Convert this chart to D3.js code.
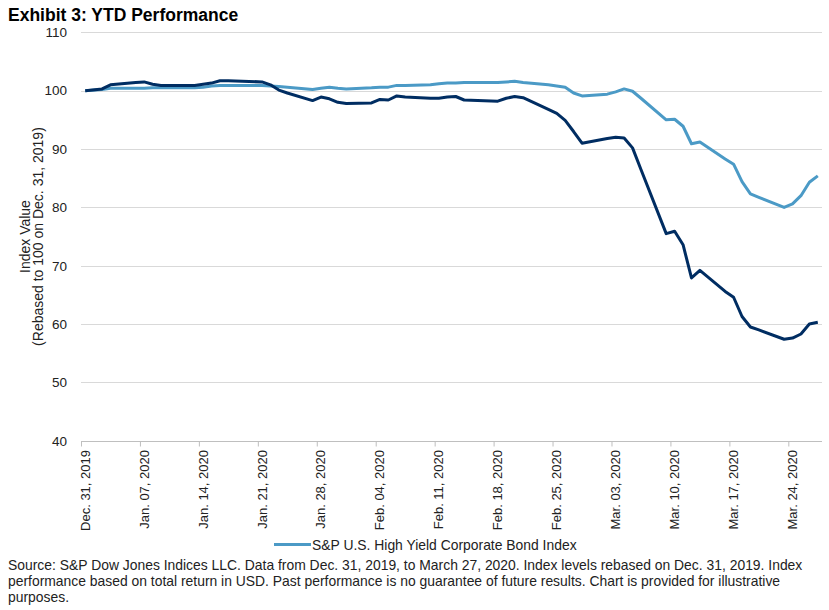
<!DOCTYPE html>
<html>
<head>
<meta charset="utf-8">
<script src="https://cdn.jsdelivr.net/npm/d3@7"></script>
<style>
  body { margin: 0; background: #fff; }
  svg { display: block; font-family: "Liberation Sans", Arial, sans-serif; }
</style>
</head>
<body>
<div id="chart"></div>
<script>
// business days, Dec. 31, 2019 to Mar. 27, 2020
const dates = [
  "2019-12-31", "2020-01-02", "2020-01-03", "2020-01-06", "2020-01-07", "2020-01-08",
  "2020-01-09", "2020-01-10", "2020-01-13", "2020-01-14", "2020-01-15", "2020-01-16",
  "2020-01-17", "2020-01-21", "2020-01-22", "2020-01-23", "2020-01-24", "2020-01-27",
  "2020-01-28", "2020-01-29", "2020-01-30", "2020-01-31", "2020-02-03", "2020-02-04",
  "2020-02-05", "2020-02-06", "2020-02-07", "2020-02-10", "2020-02-11", "2020-02-12",
  "2020-02-13", "2020-02-14", "2020-02-18", "2020-02-19", "2020-02-20", "2020-02-21",
  "2020-02-24", "2020-02-25", "2020-02-26", "2020-02-27", "2020-02-28", "2020-03-02",
  "2020-03-03", "2020-03-04", "2020-03-05", "2020-03-06", "2020-03-09", "2020-03-10",
  "2020-03-11", "2020-03-12", "2020-03-13", "2020-03-16", "2020-03-17", "2020-03-18",
  "2020-03-19", "2020-03-20", "2020-03-23", "2020-03-24", "2020-03-25", "2020-03-26",
  "2020-03-27"
];

// S&P U.S. High Yield Corporate Bond Index (light blue)
const highYield = [
  100.0, 100.2, 100.4, 100.4, 100.4, 100.5,
  100.5, 100.5, 100.5, 100.6, 100.8, 100.9,
  100.9, 100.9, 100.8, 100.7, 100.6, 100.2,
  100.4, 100.6, 100.4, 100.3, 100.5, 100.6,
  100.6, 100.9, 100.9, 101.0, 101.2, 101.3,
  101.3, 101.4, 101.4, 101.5, 101.6, 101.4,
  101.0, 100.8, 100.6, 99.6, 99.1, 99.4,
  99.8, 100.3, 99.9, 98.7, 95.0, 95.1,
  93.9, 90.9, 91.2, 88.3, 87.4, 84.4,
  82.3, 81.7, 80.0, 80.6, 82.0, 84.3,
  85.4
];

// second index (dark navy, not in legend)
const secondIndex = [
  100.0, 100.3, 101.0, 101.4, 101.5, 101.1,
  100.9, 100.9, 100.9, 101.1, 101.3, 101.7,
  101.7, 101.5, 101.0, 100.1, 99.6, 98.3,
  98.9, 98.6, 98.0, 97.8, 97.9, 98.5,
  98.4, 99.1, 98.9, 98.7, 98.7, 98.9,
  99.0, 98.4, 98.2, 98.7, 99.0, 98.8,
  96.8, 96.1, 94.9, 93.0, 91.0, 91.8,
  92.0, 91.9, 90.2, 86.5, 75.5, 75.9,
  73.6, 67.9, 69.2, 65.6, 64.6, 61.3,
  59.5, 59.0, 57.4, 57.6, 58.3, 60.0,
  60.3
];

const yTicks = [40, 50, 60, 70, 80, 90, 100, 110];
const xTickDates = [
  "2019-12-31", "2020-01-07", "2020-01-14", "2020-01-21", "2020-01-28", "2020-02-04",
  "2020-02-11", "2020-02-18", "2020-02-25", "2020-03-03", "2020-03-10", "2020-03-17",
  "2020-03-24"
];
const xTickLabels = [
  "Dec. 31, 2019", "Jan. 07, 2020", "Jan. 14, 2020", "Jan. 21, 2020", "Jan. 28, 2020",
  "Feb. 04, 2020", "Feb. 11, 2020", "Feb. 18, 2020", "Feb. 25, 2020", "Mar. 03, 2020",
  "Mar. 10, 2020", "Mar. 17, 2020", "Mar. 24, 2020"
];

const title = "Exhibit 3: YTD Performance";
const legendLabel = "S&P U.S. High Yield Corporate Bond Index";
const sourceLines = [
  "Source: S&P Dow Jones Indices LLC. Data  from Dec. 31, 2019, to March 27, 2020. Index levels rebased on Dec. 31, 2019. Index",
  "performance based on total return in USD. Past performance is no guarantee of future results. Chart is provided for illustrative",
  "purposes."
];

const width = 829, height = 610;
const margin = { top: 32.3, right: 7, bottom: 169.2, left: 81 };
const colors = { light: "#4b9ac6", dark: "#002d62", grid: "#d9d9d9", axis: "#bfbfbf" };

const parse = d3.utcParse("%Y-%m-%d");
const halfDay = 12 * 3600 * 1000;

const svg = d3.select("#chart").append("svg")
  .attr("width", width)
  .attr("height", height);

// one slot per calendar day, points centred in their slot (Excel date axis)
const x = d3.scaleUtc()
  .domain([parse("2019-12-31"), parse("2020-03-28")])
  .range([margin.left, width - margin.right]);

const y = d3.scaleLinear()
  .domain([40, 110])
  .range([height - margin.bottom, margin.top]);

svg.append("text")
  .attr("x", 8)
  .attr("y", 21)
  .style("font-size", "17.5px")
  .style("font-weight", "bold")
  .attr("fill", "#000")
  .text(title);

// gridlines
svg.append("g")
  .selectAll("line")
  .data(yTicks.filter((d) => d > 40))
  .join("line")
  .attr("x1", margin.left)
  .attr("x2", width - margin.right)
  .attr("y1", (d) => Math.round(y(d)) + 0.5)
  .attr("y2", (d) => Math.round(y(d)) + 0.5)
  .attr("stroke", colors.grid)
  .attr("stroke-width", 1);

// y axis labels
svg.append("g")
  .attr("transform", `translate(${margin.left}, 0)`)
  .call(d3.axisLeft(y).tickValues(yTicks).tickSize(0).tickPadding(14))
  .call((g) => g.select(".domain").remove())
  .call((g) => g.selectAll("text")
    .style("font-size", "13.5px")
    .style("font-family", "Liberation Sans, Arial, sans-serif")
    .attr("fill", "#222"));

// x axis
svg.append("g")
  .attr("transform", `translate(0, ${Math.round(y(40)) + 0.5})`)
  .call(d3.axisBottom(x)
    .tickValues(xTickDates.map(parse))
    .tickSize(5)
    .tickFormat(""))
  .call((g) => g.select(".domain").attr("stroke", colors.axis).attr("d", `M${margin.left},0H${width - margin.right}`))
  .call((g) => g.selectAll(".tick line").attr("stroke", colors.axis));

svg.append("g")
  .selectAll("text")
  .data(xTickDates)
  .join("text")
  .attr("transform", (d) => `translate(${x(+parse(d) + halfDay) + 4.5}, ${Math.round(y(40)) + 9}) rotate(-90)`)
  .attr("text-anchor", "end")
  .style("font-size", "13px")
  .attr("fill", "#222")
  .text((d, i) => xTickLabels[i]);

// y axis title
const yTitle = svg.append("text")
  .attr("transform", `translate(0, ${(y(40) + y(110)) / 2}) rotate(-90)`)
  .attr("text-anchor", "middle")
  .style("font-size", "14px")
  .attr("fill", "#222");
yTitle.append("tspan").attr("x", 0).attr("y", 30).text("Index Value");
yTitle.append("tspan").attr("x", 0).attr("y", 43).text("(Rebased to 100 on Dec. 31, 2019)");

// lines
const line = (values) => d3.line()
  .x((d, i) => x(+parse(dates[i]) + halfDay))
  .y((d) => y(d))(values);

svg.append("path")
  .attr("d", line(highYield))
  .attr("fill", "none")
  .attr("stroke", colors.light)
  .attr("stroke-width", 3)
  .attr("stroke-linejoin", "round");

svg.append("path")
  .attr("d", line(secondIndex))
  .attr("fill", "none")
  .attr("stroke", colors.dark)
  .attr("stroke-width", 3)
  .attr("stroke-linejoin", "round");

// legend
const legend = svg.append("g").attr("transform", "translate(274, 544.5)");
legend.append("line")
  .attr("x1", 0)
  .attr("x2", 37)
  .attr("stroke", colors.light)
  .attr("stroke-width", 3);
legend.append("text")
  .attr("x", 38)
  .attr("y", 5)
  .style("font-size", "13.9px")
  .attr("fill", "#222")
  .text(legendLabel);

// source note
svg.append("g")
  .selectAll("text")
  .data(sourceLines)
  .join("text")
  .attr("x", 8)
  .attr("y", (d, i) => 570 + i * 16)
  .style("font-size", "13.9px")
  .attr("fill", "#222")
  .text((d) => d);
</script>
</body>
</html>
